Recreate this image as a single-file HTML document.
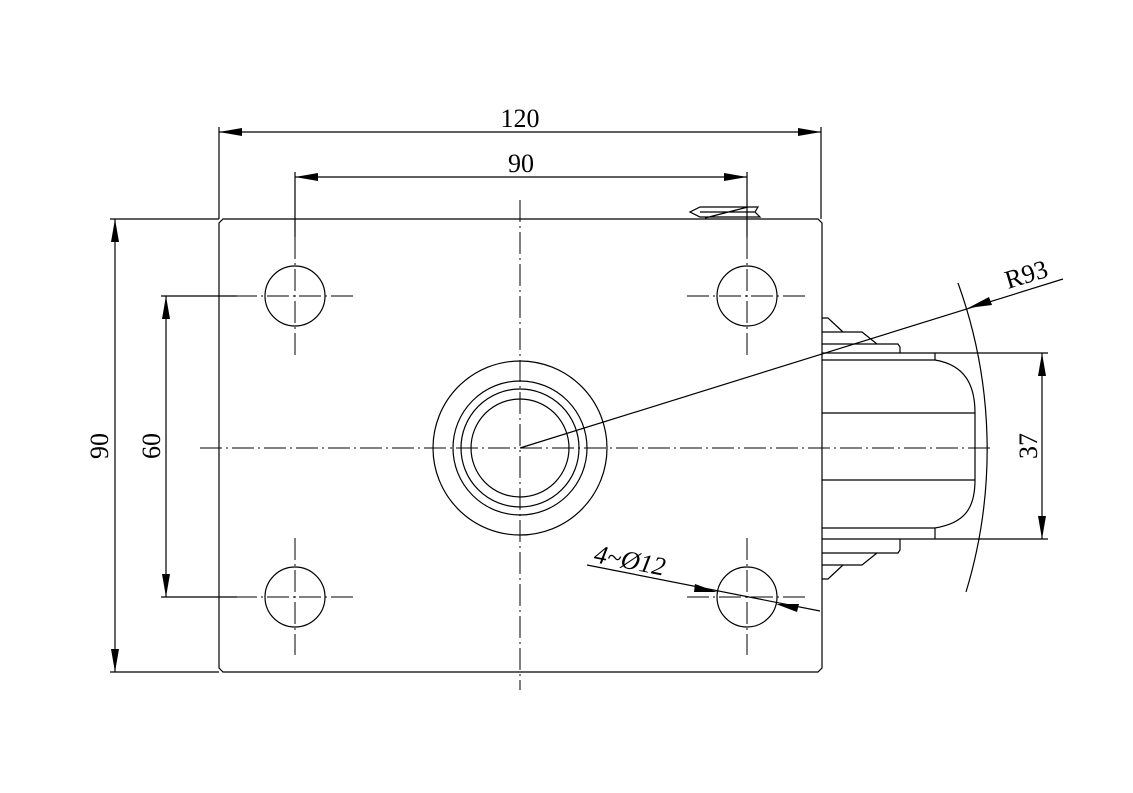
<!DOCTYPE html>
<html><head><meta charset="utf-8"><style>
html,body{margin:0;padding:0;background:#fff}
svg{display:block}
text{font-family:"Liberation Serif",serif;fill:#000}
</style></head><body>
<svg width="1133" height="793" viewBox="0 0 1133 793" xmlns="http://www.w3.org/2000/svg">
<g stroke="#000" stroke-width="1.2" fill="none">
<!-- plate -->
<path d="M223,219 H818 L822,223 V668 L818,672 H223 L219,668 V223 Z"/>
<!-- holes -->
<circle cx="295" cy="296" r="30"/><circle cx="747" cy="296" r="30"/>
<circle cx="295" cy="597" r="30"/><circle cx="747" cy="597" r="30"/>
<!-- center circles -->
<circle cx="520" cy="448" r="87"/><circle cx="520" cy="448" r="67"/>
<circle cx="520" cy="448" r="59"/><circle cx="520" cy="448" r="49"/>
<!-- wheel section -->
<path d="M822,353 H935 M822,360 H935 M822,413 H975 M822,480 H975 M822,528 H935 M822,539 H935"/>
<path d="M935,353 V360 C965,365 975,385 975,413 V480 C975,508 965,523 935,528 V539"/>
<path d="M822,344 H898 L900,347 V353 M822,332 H862 L877,344"/>
<path d="M822,318 H828 L843,332"/>
<path d="M822,553 H898 L900,550 V539 M822,565 H862 L877,553"/>
<path d="M822,579 H828 L843,565"/>
<!-- R93 arc -->
<path d="M958,283 A490,490 0 0 1 966,592"/>
<!-- thread thing -->
<path d="M700,207 H758 L755,212 L760,217 H700 L690,212 Z M700,212 H755 M705,218 L748,207"/>
<!-- extension lines -->
<path d="M219,127 V219 M821,127 V219 M295,172 V237 M747,172 V237"/>
<path d="M110,219 H219 M110,672 H219 M161,296 H237 M161,597 H237"/>
<path d="M935,353 H1048 M935,539 H1048"/>
<!-- dim lines -->
<path d="M219,132 H821 M295,177 H747 M115,219 V672 M166,296 V597 M1042,353 V539"/>
<path d="M520,448 L1063,279"/>
<path d="M587,565 L820,611"/>
</g>
<!-- centerlines -->
<g stroke="#000" stroke-width="1" fill="none" stroke-dasharray="22,4,2,4">
<path d="M520,200 V690 M200,448 H990"/>
<path d="M235,296 H355 M687,296 H807 M235,597 H355 M687,597 H807"/>
<path d="M295,237 V355 M747,237 V355 M295,538 V655 M747,538 V655"/>
</g>
<!-- arrows -->
<g fill="#000">
<polygon points="219,132 242,128 242,136"/>
<polygon points="821,132 798,128 798,136"/>
<polygon points="295,177 318,173 318,181"/>
<polygon points="747,177 724,173 724,181"/>
<polygon points="115,219 111,242 119,242"/>
<polygon points="115,672 111,649 119,649"/>
<polygon points="166,296 162,319 170,319"/>
<polygon points="166,597 162,574 170,574"/>
<polygon points="1042,353 1038,376 1046,376"/>
<polygon points="1042,539 1038,516 1046,516"/>
<polygon points="968,308 989,297 992,305"/>
<polygon points="717,592 695,584 694,592"/>
<polygon points="776,604 799,604 797,612"/>
</g>
<!-- labels -->
<text x="520" y="127" font-size="26" text-anchor="middle">120</text>
<text x="521" y="172" font-size="26" text-anchor="middle">90</text>
<text transform="translate(108,446) rotate(-90)" font-size="26" text-anchor="middle">90</text>
<text transform="translate(160,446) rotate(-90)" font-size="26" text-anchor="middle">60</text>
<text transform="translate(1037,446) rotate(-90)" font-size="26" text-anchor="middle">37</text>
<text transform="translate(1008,289) rotate(-17)" font-size="26">R93</text>
<text transform="translate(593,562) rotate(11)" font-size="26" font-style="italic">4~Ø12</text>
</svg>
</body></html>
